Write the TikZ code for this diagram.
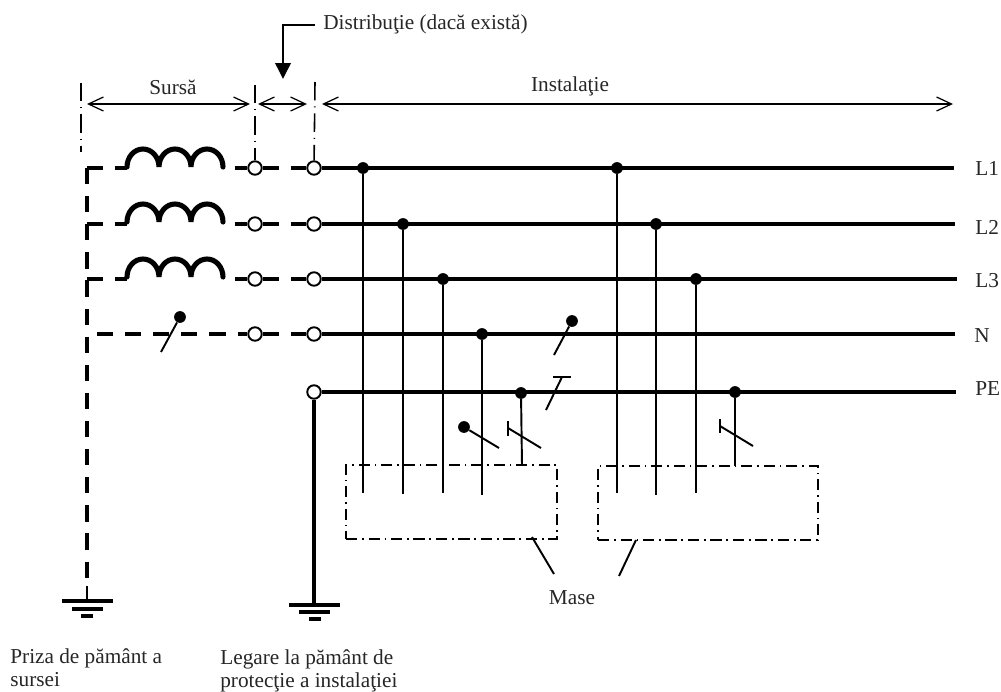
\documentclass[tikz,border=0pt]{standalone}
\usepackage{fontspec}
\setmainfont{Liberation Serif}
\usetikzlibrary{arrows.meta}
\begin{document}
\begin{tikzpicture}[x=0.02cm,y=-0.02cm,
        label/.style={inner sep=0pt,text=black!85,font=\fontsize{12.1}{13.4}\selectfont},
        term/.style={circle,draw,fill=white,line width=1.1pt,minimum size=0.27cm,inner sep=0pt},
        dot/.style={circle,fill,minimum size=0.235cm,inner sep=0pt},
        bus/.style={line width=2.1pt},
        tap/.style={line width=1.1pt},
        lead/.style={line width=1.9pt,dash pattern=on 9.2pt off 6.8pt},
        coil/.style={line width=2.9pt,line cap=round},
        cote/.style={line width=0.7pt,{Straight Barb[length=3mm,width=2.8mm]}-{Straight Barb[length=3mm,width=2.8mm]}},
        axa/.style={line width=0.9pt,dash pattern=on 10.5pt off 3.4pt on 0.6pt off 3.4pt},
        masa/.style={draw,line width=0.9pt,dash pattern=on 6.3pt off 2.8pt on 0.9pt off 2.8pt,minimum width=4.22cm,minimum height=1.48cm}]
    \useasboundingbox (0,0) rectangle (1001,691);
    % bornele
    \node[term] (s1) at (255,168) {};
    \node[term] (s2) at (255,224) {};
    \node[term] (s3) at (255,279) {};
    \node[term] (s4) at (255,334) {};
    \node[term] (d1) at (314,168) {};
    \node[term] (d2) at (314,224) {};
    \node[term] (d3) at (314,279) {};
    \node[term] (d4) at (314,334) {};
    \node[term] (d5) at (314,392) {};
    % etichete
    \node[label,anchor=west] (ll1) at (975,168) {L1};
    \node[label,anchor=west] (ll2) at (975,227) {L2};
    \node[label,anchor=west] (ll3) at (975,281) {L3};
    \node[label,anchor=west] (ln) at (974,336) {N};
    \node[label,anchor=west] (lpe) at (975,389) {PE};
    \node[label] (sursa) at (173,87) {Sursă};
    \node[label] (inst) at (570,86) {Instalaţie};
    \node[label,anchor=west] (distr) at (323,24) {Distribuţie (dacă există)};
    \node[label] (mase) at (572,598) {Mase};
    \node[label,anchor=north west,align=left] (priza) at (10,648) {Priza de pământ a\\sursei};
    \node[label,anchor=north west,align=left] (legare) at (220,649) {Legare la pământ de\\protecţie a instalaţiei};
    % capetele barelor
    \coordinate (e1) at (954,168);
    \coordinate (e2) at (955,224);
    \coordinate (e3) at (957,279);
    \coordinate (e4) at (955,334);
    \coordinate (e5) at (956,392);
    \draw[bus] (d1) -- (e1);
    \draw[bus] (d2) -- (e2);
    \draw[bus] (d3) -- (e3);
    \draw[bus] (d4) -- (e4);
    \draw[bus] (d5) -- (e5);
    % sursa
    \coordinate (g0) at (87,168);
    \coordinate (g1) at (87,586);
    \coordinate (g2) at (87,224);
    \coordinate (g3) at (87,279);
    \coordinate (g4) at (97,334);
    \draw[lead] (g0) -- (g1);
    \draw[lead] (g0) -- (127,168);
    \draw[lead] (g2) -- (127,224);
    \draw[lead] (g3) -- (127,279);
    \draw[lead] (g4) -- (s4);
    \draw[coil] (127,167) arc (-180:0:16 and 18) arc (-180:0:16 and 18) arc (-180:0:16 and 18);
    \draw[coil] (127,222) arc (-180:0:16 and 18) arc (-180:0:16 and 18) arc (-180:0:16 and 18);
    \draw[coil] (127,277) arc (-180:0:16 and 18) arc (-180:0:16 and 18) arc (-180:0:16 and 18);
    \draw[lead] (235,168) -- (s1);
    \draw[lead] (235,224) -- (s2);
    \draw[lead] (235,279) -- (s3);
    \draw[lead] (s1) -- (d1);
    \draw[lead] (s2) -- (d2);
    \draw[lead] (s3) -- (d3);
    \draw[lead] (s4) -- (d4);
    % legari la pamant
    \draw[tap] (g1) -- (87,601);
    \draw[line width=1.9pt] (62,601) -- (113,601);
    \draw[line width=1.9pt] (72,609) -- (103,609);
    \draw[line width=1.9pt] (81,616) -- (93,616);
    \draw[line width=1.9pt] (d5) -- (314,605);
    \draw[line width=1.9pt] (289,605) -- (340,605);
    \draw[line width=1.9pt] (299,612) -- (330,612);
    \draw[line width=1.9pt] (309,619) -- (321,619);
    % mase
    \node[masa] (m1) at (451.5,502) {};
    \node[masa,minimum width=4.4cm] (m2) at (708,503) {};
    \coordinate (r1) at (554,574);
    \coordinate (r2) at (619,576);
    \draw[tap] (532,537) -- (r1);
    \draw[tap] (636,540) -- (r2);
    % derivatii
    \node[dot] (j1) at (363,168) {};
    \node[dot] (j2) at (403,224) {};
    \node[dot] (j3) at (443,279) {};
    \node[dot] (j4) at (482,334) {};
    \node[dot] (j5) at (521,393) {};
    \node[dot] (k1) at (617,168) {};
    \node[dot] (k2) at (656,224) {};
    \node[dot] (k3) at (696,279) {};
    \node[dot] (k5) at (735,392) {};
    \draw[tap] (j1) -- (363,493);
    \draw[tap] (j2) -- (403,494);
    \draw[tap] (j3) -- (443,493);
    \draw[tap] (j4) -- (482,495);
    \draw[tap] (j5) -- (522,465);
    \draw[tap] (k1) -- (617,493);
    \draw[tap] (k2) -- (656,495);
    \draw[tap] (k3) -- (696,493);
    \draw[tap] (k5) -- (735,466);
    % contacte
    \node[dot] (c1) at (180,317) {};
    \node[dot] (c2) at (572,321) {};
    \node[dot] (c3) at (464,427) {};
    \draw[tap] (c1) -- (161,352);
    \draw[tap] (c2) -- (554,355);
    \draw[tap] (c3) -- (499,448);
    \draw[tap] (553,377) -- (571,377);
    \draw[tap] (562,377) -- (546,410);
    \draw[tap] (508,421) -- (508,436);
    \draw[tap] (508,428) -- (541,448);
    \draw[tap] (720,419) -- (720,433);
    \draw[tap] (720,426) -- (753,446);
    % cote
    \draw[axa] (81,83) -- (81,152);
    \draw[axa] (255,85) -- (s1);
    \draw[axa] (315,82) -- (d1);
    \draw[cote] (87,104) -- (250,104);
    \draw[cote] (258,104) -- (307,104);
    \draw[cote] (322,104) -- (953,104);
    % sageata distributie
    \draw[line width=1.1pt,-{Triangle[length=0.32cm,width=0.31cm]}] (distr.west) ++(-8,1) -- (283,25) -- (283,79);
\end{tikzpicture}
\end{document}
